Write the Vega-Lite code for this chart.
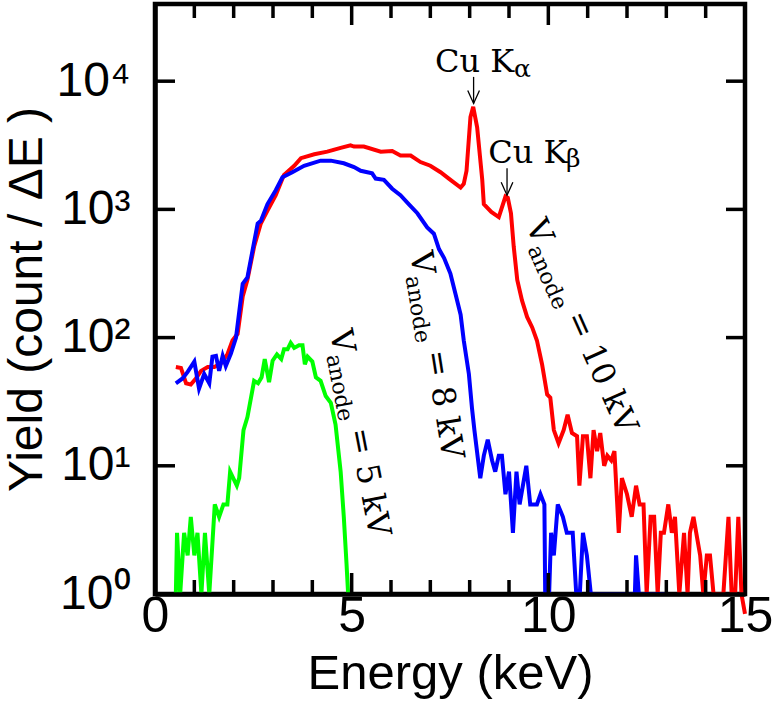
{
  "$schema": "https://vega.github.io/schema/vega-lite/v6.json",
  "width": 590,
  "height": 590,
  "autosize": {"type": "none"},
  "padding": {"left": 155, "top": 4, "right": 28, "bottom": 119},
  "background": "white",
  "config": {"view": {"stroke": "black", "strokeWidth": 4.5}, "font": "Liberation Sans"},
  "datasets": {
    "v10": [
      {"E":0.53,"Y":59},{"E":0.66,"Y":58},{"E":0.79,"Y":44},{"E":0.91,"Y":43},{"E":1.04,"Y":48},{"E":1.17,"Y":55},{"E":1.34,"Y":59},{"E":1.51,"Y":59},{"E":1.68,"Y":63},{"E":1.84,"Y":74},{"E":1.97,"Y":95},{"E":2.10,"Y":107},{"E":2.23,"Y":209},{"E":2.35,"Y":282},{"E":2.52,"Y":513},{"E":2.69,"Y":776},{"E":2.86,"Y":977},{"E":3.07,"Y":1290},{"E":3.28,"Y":1860},{"E":3.54,"Y":2190},{"E":3.71,"Y":2510},{"E":4.05,"Y":2690},{"E":4.38,"Y":2820},{"E":4.72,"Y":3020},{"E":4.97,"Y":3160},{"E":5.06,"Y":3090},{"E":5.31,"Y":3090},{"E":5.74,"Y":2820},{"E":6.03,"Y":2850},{"E":6.24,"Y":2630},{"E":6.50,"Y":2630},{"E":6.75,"Y":2340},{"E":7.00,"Y":2190},{"E":7.26,"Y":1950},{"E":7.47,"Y":1740},{"E":7.77,"Y":1480},{"E":7.85,"Y":1580},{"E":7.92,"Y":2000},{"E":8.02,"Y":5250},{"E":8.09,"Y":6310},{"E":8.19,"Y":4370},{"E":8.32,"Y":1700},{"E":8.36,"Y":1100},{"E":8.55,"Y":955},{"E":8.74,"Y":871},{"E":8.91,"Y":1260},{"E":8.97,"Y":1230},{"E":9.05,"Y":933},{"E":9.12,"Y":513},{"E":9.21,"Y":282},{"E":9.33,"Y":195},{"E":9.46,"Y":145},{"E":9.59,"Y":120},{"E":9.71,"Y":95},{"E":9.84,"Y":62},{"E":9.97,"Y":36},{"E":10.05,"Y":34},{"E":10.14,"Y":19},{"E":10.26,"Y":15},{"E":10.39,"Y":19},{"E":10.49,"Y":25},{"E":10.60,"Y":18},{"E":10.73,"Y":17},{"E":10.79,"Y":7},{"E":10.88,"Y":17},{"E":10.98,"Y":17},{"E":11.07,"Y":8},{"E":11.15,"Y":19},{"E":11.24,"Y":13},{"E":11.32,"Y":18},{"E":11.42,"Y":10},{"E":11.50,"Y":12},{"E":11.60,"Y":11},{"E":11.68,"Y":13},{"E":11.79,"Y":3},{"E":11.87,"Y":8},{"E":12.00,"Y":6},{"E":12.12,"Y":4},{"E":12.23,"Y":7},{"E":12.32,"Y":5},{"E":12.42,"Y":5},{"E":12.50,"Y":1},{"E":12.60,"Y":4},{"E":12.69,"Y":4},{"E":12.78,"Y":1},{"E":12.86,"Y":3},{"E":12.94,"Y":3},{"E":13.05,"Y":5},{"E":13.14,"Y":3},{"E":13.22,"Y":4},{"E":13.33,"Y":1},{"E":13.45,"Y":3},{"E":13.54,"Y":1},{"E":13.60,"Y":3},{"E":13.69,"Y":4},{"E":13.86,"Y":2},{"E":13.94,"Y":1},{"E":14.03,"Y":2},{"E":14.11,"Y":2},{"E":14.20,"Y":1},{"E":14.45,"Y":1},{"E":14.58,"Y":4},{"E":14.66,"Y":1},{"E":14.75,"Y":1},{"E":14.83,"Y":4},{"E":14.91,"Y":1},{"E":15.0,"Y":0.7}
    ],
    "v8": [
      {"E":0.53,"Y":44},{"E":0.70,"Y":48},{"E":0.83,"Y":54},{"E":1.00,"Y":65},{"E":1.12,"Y":40},{"E":1.25,"Y":52},{"E":1.38,"Y":44},{"E":1.46,"Y":71},{"E":1.55,"Y":72},{"E":1.63,"Y":55},{"E":1.72,"Y":72},{"E":1.80,"Y":60},{"E":1.93,"Y":75},{"E":2.06,"Y":100},{"E":2.23,"Y":263},{"E":2.35,"Y":295},{"E":2.48,"Y":479},{"E":2.61,"Y":776},{"E":2.69,"Y":813},{"E":2.86,"Y":1100},{"E":3.07,"Y":1410},{"E":3.24,"Y":1780},{"E":3.49,"Y":1950},{"E":3.79,"Y":2190},{"E":4.21,"Y":2400},{"E":4.47,"Y":2400},{"E":4.80,"Y":2290},{"E":5.06,"Y":2140},{"E":5.23,"Y":2000},{"E":5.52,"Y":1910},{"E":5.61,"Y":1740},{"E":5.82,"Y":1700},{"E":6.03,"Y":1450},{"E":6.24,"Y":1290},{"E":6.45,"Y":1100},{"E":6.67,"Y":933},{"E":6.92,"Y":724},{"E":7.09,"Y":646},{"E":7.22,"Y":490},{"E":7.35,"Y":417},{"E":7.51,"Y":316},{"E":7.64,"Y":219},{"E":7.77,"Y":151},{"E":7.85,"Y":95},{"E":7.98,"Y":52},{"E":8.06,"Y":28},{"E":8.12,"Y":19},{"E":8.27,"Y":8},{"E":8.36,"Y":12},{"E":8.46,"Y":16},{"E":8.57,"Y":11},{"E":8.65,"Y":9},{"E":8.74,"Y":12},{"E":8.82,"Y":12},{"E":8.91,"Y":6},{"E":9.00,"Y":9},{"E":9.10,"Y":3},{"E":9.19,"Y":9},{"E":9.27,"Y":5},{"E":9.44,"Y":10},{"E":9.54,"Y":5},{"E":9.71,"Y":5},{"E":9.80,"Y":6},{"E":9.90,"Y":5},{"E":9.92,"Y":1},{"E":10.02,"Y":1},{"E":10.07,"Y":3},{"E":10.14,"Y":2},{"E":10.24,"Y":5},{"E":10.37,"Y":4},{"E":10.47,"Y":3},{"E":10.62,"Y":3},{"E":10.71,"Y":1},{"E":10.80,"Y":1},{"E":10.88,"Y":3},{"E":10.98,"Y":2},{"E":11.08,"Y":1},{"E":12.20,"Y":1},{"E":12.23,"Y":2},{"E":12.30,"Y":1},{"E":13.0,"Y":1}
    ],
    "v5": [
      {"E":0.53,"Y":1},{"E":0.56,"Y":3},{"E":0.64,"Y":1},{"E":0.74,"Y":3},{"E":0.83,"Y":2},{"E":0.91,"Y":4},{"E":1.00,"Y":2},{"E":1.08,"Y":3},{"E":1.18,"Y":1},{"E":1.27,"Y":3},{"E":1.38,"Y":1},{"E":1.52,"Y":5},{"E":1.63,"Y":4},{"E":1.74,"Y":5},{"E":1.84,"Y":5},{"E":1.91,"Y":9},{"E":2.08,"Y":7},{"E":2.14,"Y":8},{"E":2.25,"Y":19},{"E":2.35,"Y":24},{"E":2.52,"Y":46},{"E":2.62,"Y":44},{"E":2.71,"Y":49},{"E":2.79,"Y":68},{"E":2.90,"Y":45},{"E":2.99,"Y":66},{"E":3.10,"Y":74},{"E":3.21,"Y":68},{"E":3.28,"Y":81},{"E":3.37,"Y":81},{"E":3.45,"Y":91},{"E":3.54,"Y":83},{"E":3.66,"Y":87},{"E":3.75,"Y":87},{"E":3.81,"Y":62},{"E":3.88,"Y":71},{"E":4.00,"Y":65},{"E":4.09,"Y":49},{"E":4.21,"Y":46},{"E":4.34,"Y":35},{"E":4.47,"Y":31},{"E":4.59,"Y":21},{"E":4.72,"Y":9},{"E":4.80,"Y":4},{"E":4.87,"Y":1.7},{"E":4.91,"Y":1}
    ]
  },
  "resolve": {"axis": {"x": "independent", "y": "independent"}},
  "layer": [
    {
      "data": {"name": "v10"},
      "mark": {"type": "line", "color": "#ff0000", "strokeWidth": 4, "clip": false},
      "encoding": {
        "x": {"field": "E", "type": "quantitative",
          "scale": {"domain": [0, 15], "nice": false, "zero": false},
          "axis": {"orient": "bottom", "values": [0, 5, 10, 15], "format": "d", "ticks": false,
            "domain": true, "domainColor": "black", "domainWidth": 4.5,
            "labelFont": "Liberation Sans", "labelFontSize": 50, "labelColor": "black", "labelPadding": -3,
            "labelFlush": false, "labelOverlap": false, "grid": false, "zindex": 1,
            "title": "Energy (keV)", "titleFont": "Liberation Sans", "titleFontSize": 49, "titleFontWeight": "normal", "titleColor": "black", "titlePadding": 8}},
        "y": {"field": "Y", "type": "quantitative",
          "scale": {"type": "log", "domain": [1, 40000], "nice": false},
          "axis": {"orient": "left", "values": [1, 10, 100, 1000, 10000], "ticks": false,
            "labelExpr": "datum.value == 1 ? '10⁰' : datum.value == 10 ? '10¹' : datum.value == 100 ? '10²' : datum.value == 1000 ? '10³' : '10⁴'",
            "domain": true, "domainColor": "black", "domainWidth": 4.5,
            "labelFont": "Liberation Sans", "labelFontSize": 48, "labelColor": "black", "labelPadding": 25,
            "labelFlush": false, "labelOverlap": false, "grid": false, "zindex": 1,
            "title": "Yield (count / ΔE )", "titleFont": "Liberation Sans", "titleFontSize": 48, "titleFontWeight": "normal", "titleColor": "black", "titlePadding": 4}}
      }
    },
    {
      "data": {"name": "v8"},
      "mark": {"type": "line", "color": "#0000ff", "strokeWidth": 4, "clip": false},
      "encoding": {
        "x": {"field": "E", "type": "quantitative", "scale": {"domain": [0, 15], "nice": false, "zero": false}, "axis": null},
        "y": {"field": "Y", "type": "quantitative", "scale": {"type": "log", "domain": [1, 40000], "nice": false}, "axis": null}
      }
    },
    {
      "data": {"name": "v5"},
      "mark": {"type": "line", "color": "#00ff00", "strokeWidth": 4, "clip": false},
      "encoding": {
        "x": {"field": "E", "type": "quantitative", "scale": {"domain": [0, 15], "nice": false, "zero": false}, "axis": null},
        "y": {"field": "Y", "type": "quantitative", "scale": {"type": "log", "domain": [1, 40000], "nice": false}, "axis": null}
      }
    },
    {
      "data": {"values": [{"x":1,"y":1},{"x":2,"y":1},{"x":3,"y":1},{"x":4,"y":1},{"x":6,"y":1},{"x":7,"y":1},{"x":8,"y":1},{"x":9,"y":1},{"x":11,"y":1},{"x":12,"y":1},{"x":13,"y":1},{"x":14,"y":1}]},
      "mark": {"type": "point", "shape": "M0,0L0,-1", "size": 784, "filled": false, "stroke": "black", "strokeWidth": 3.5, "opacity": 1, "strokeCap": "butt"},
      "encoding": {"x": {"field": "x", "type": "quantitative", "scale": {"domain": [0, 15], "nice": false, "zero": false}, "axis": null},
                   "y": {"field": "y", "type": "quantitative", "scale": {"type": "log", "domain": [1, 40000], "nice": false}, "axis": null}}
    },
    {
      "data": {"values": [{"x":1,"y":40000},{"x":2,"y":40000},{"x":3,"y":40000},{"x":4,"y":40000},{"x":6,"y":40000},{"x":7,"y":40000},{"x":8,"y":40000},{"x":9,"y":40000},{"x":11,"y":40000},{"x":12,"y":40000},{"x":13,"y":40000},{"x":14,"y":40000}]},
      "mark": {"type": "point", "shape": "M0,0L0,1", "size": 784, "filled": false, "stroke": "black", "strokeWidth": 3.5, "opacity": 1, "strokeCap": "butt"},
      "encoding": {"x": {"field": "x", "type": "quantitative", "scale": {"domain": [0, 15], "nice": false, "zero": false}, "axis": null},
                   "y": {"field": "y", "type": "quantitative", "scale": {"type": "log", "domain": [1, 40000], "nice": false}, "axis": null}}
    },
    {
      "data": {"values": [{"x":5,"y":1},{"x":10,"y":1}]},
      "mark": {"type": "point", "shape": "M0,0L0,-1", "size": 1764, "filled": false, "stroke": "black", "strokeWidth": 3.5, "opacity": 1, "strokeCap": "butt"},
      "encoding": {"x": {"field": "x", "type": "quantitative", "scale": {"domain": [0, 15], "nice": false, "zero": false}, "axis": null},
                   "y": {"field": "y", "type": "quantitative", "scale": {"type": "log", "domain": [1, 40000], "nice": false}, "axis": null}}
    },
    {
      "data": {"values": [{"x":5,"y":40000},{"x":10,"y":40000}]},
      "mark": {"type": "point", "shape": "M0,0L0,1", "size": 1764, "filled": false, "stroke": "black", "strokeWidth": 3.5, "opacity": 1, "strokeCap": "butt"},
      "encoding": {"x": {"field": "x", "type": "quantitative", "scale": {"domain": [0, 15], "nice": false, "zero": false}, "axis": null},
                   "y": {"field": "y", "type": "quantitative", "scale": {"type": "log", "domain": [1, 40000], "nice": false}, "axis": null}}
    },
    {
      "data": {"values": [{"x":0,"y":10},{"x":0,"y":100},{"x":0,"y":1000},{"x":0,"y":10000}]},
      "mark": {"type": "point", "shape": "M0,0L1,0", "size": 1600, "filled": false, "stroke": "black", "strokeWidth": 3.5, "opacity": 1, "strokeCap": "butt"},
      "encoding": {"x": {"field": "x", "type": "quantitative", "scale": {"domain": [0, 15], "nice": false, "zero": false}, "axis": null},
                   "y": {"field": "y", "type": "quantitative", "scale": {"type": "log", "domain": [1, 40000], "nice": false}, "axis": null}}
    },
    {
      "data": {"values": [{"x":15,"y":10},{"x":15,"y":100},{"x":15,"y":1000},{"x":15,"y":10000}]},
      "mark": {"type": "point", "shape": "M0,0L-1,0", "size": 1444, "filled": false, "stroke": "black", "strokeWidth": 3.5, "opacity": 1, "strokeCap": "butt"},
      "encoding": {"x": {"field": "x", "type": "quantitative", "scale": {"domain": [0, 15], "nice": false, "zero": false}, "axis": null},
                   "y": {"field": "y", "type": "quantitative", "scale": {"type": "log", "domain": [1, 40000], "nice": false}, "axis": null}}
    },
    {
      "data": {"values": [{"x": 8.10, "y": 10800, "y2": 6700}, {"x": 8.95, "y": 2090, "y2": 1290}]},
      "layer": [
        {
          "mark": {"type": "rule", "color": "black", "strokeWidth": 1.3},
          "encoding": {
            "x": {"field": "x", "type": "quantitative", "scale": {"domain": [0, 15], "nice": false, "zero": false}, "axis": null},
            "y": {"field": "y", "type": "quantitative", "scale": {"type": "log", "domain": [1, 40000], "nice": false}, "axis": null},
            "y2": {"field": "y2"}
          }
        },
        {
          "mark": {"type": "point", "shape": "M-0.45,-1L0,0L0.45,-1", "size": 676, "filled": false, "stroke": "black", "strokeWidth": 1.3, "opacity": 1},
          "encoding": {
            "x": {"field": "x", "type": "quantitative", "scale": {"domain": [0, 15], "nice": false, "zero": false}, "axis": null},
            "y": {"field": "y2", "type": "quantitative", "scale": {"type": "log", "domain": [1, 40000], "nice": false}, "axis": null}
          }
        }
      ]
    },
    {
      "data": {"values": [{"x": 7.12, "y": 11800, "t": "Cu K"}, {"x": 8.47, "y": 2300, "t": "Cu K"}]},
      "mark": {"type": "text", "align": "left", "baseline": "alphabetic", "font": "DejaVu Serif", "fontSize": 32, "color": "black"},
      "encoding": {
        "x": {"field": "x", "type": "quantitative", "scale": {"domain": [0, 15], "nice": false, "zero": false}, "axis": null},
        "y": {"field": "y", "type": "quantitative", "scale": {"type": "log", "domain": [1, 40000], "nice": false}, "axis": null},
        "text": {"field": "t"}
      }
    },
    {
      "data": {"values": [{"x": 9.13, "y": 10790, "t": "α"}, {"x": 10.45, "y": 2140, "t": "β"}]},
      "mark": {"type": "text", "align": "left", "baseline": "alphabetic", "font": "DejaVu Serif", "fontSize": 25, "color": "black"},
      "encoding": {
        "x": {"field": "x", "type": "quantitative", "scale": {"domain": [0, 15], "nice": false, "zero": false}, "axis": null},
        "y": {"field": "y", "type": "quantitative", "scale": {"type": "log", "domain": [1, 40000], "nice": false}, "axis": null},
        "text": {"field": "t"}
      }
    },
    {
      "data": {"values": [{"x": 9.41, "y": 755, "v": "V", "sub": "anode", "rest": "= 10 kV"}]},
      "layer": [
        {"mark": {"type": "text", "align": "left", "baseline": "alphabetic", "font": "DejaVu Serif", "fontSize": 32, "color": "black", "angle": 66},
         "encoding": {"x": {"field": "x", "type": "quantitative", "scale": {"domain": [0, 15], "nice": false, "zero": false}, "axis": null},
                      "y": {"field": "y", "type": "quantitative", "scale": {"type": "log", "domain": [1, 40000], "nice": false}, "axis": null},
                      "text": {"field": "v"}}},
        {"mark": {"type": "text", "align": "left", "baseline": "alphabetic", "font": "DejaVu Serif", "fontSize": 22, "color": "black", "angle": 66, "dx": 23, "dy": 8},
         "encoding": {"x": {"field": "x", "type": "quantitative", "scale": {"domain": [0, 15], "nice": false, "zero": false}, "axis": null},
                      "y": {"field": "y", "type": "quantitative", "scale": {"type": "log", "domain": [1, 40000], "nice": false}, "axis": null},
                      "text": {"field": "sub"}}},
        {"mark": {"type": "text", "align": "left", "baseline": "alphabetic", "font": "DejaVu Serif", "fontSize": 32, "color": "black", "angle": 66, "dx": 100},
         "encoding": {"x": {"field": "x", "type": "quantitative", "scale": {"domain": [0, 15], "nice": false, "zero": false}, "axis": null},
                      "y": {"field": "y", "type": "quantitative", "scale": {"type": "log", "domain": [1, 40000], "nice": false}, "axis": null},
                      "text": {"field": "rest"}}}
      ]
    },
    {
      "data": {"values": [{"x": 6.48, "y": 457, "v": "V", "sub": "anode", "rest": "= 8 kV"}]},
      "layer": [
        {"mark": {"type": "text", "align": "left", "baseline": "alphabetic", "font": "DejaVu Serif", "fontSize": 32, "color": "black", "angle": 81},
         "encoding": {"x": {"field": "x", "type": "quantitative", "scale": {"domain": [0, 15], "nice": false, "zero": false}, "axis": null},
                      "y": {"field": "y", "type": "quantitative", "scale": {"type": "log", "domain": [1, 40000], "nice": false}, "axis": null},
                      "text": {"field": "v"}}},
        {"mark": {"type": "text", "align": "left", "baseline": "alphabetic", "font": "DejaVu Serif", "fontSize": 22, "color": "black", "angle": 81, "dx": 23, "dy": 8},
         "encoding": {"x": {"field": "x", "type": "quantitative", "scale": {"domain": [0, 15], "nice": false, "zero": false}, "axis": null},
                      "y": {"field": "y", "type": "quantitative", "scale": {"type": "log", "domain": [1, 40000], "nice": false}, "axis": null},
                      "text": {"field": "sub"}}},
        {"mark": {"type": "text", "align": "left", "baseline": "alphabetic", "font": "DejaVu Serif", "fontSize": 32, "color": "black", "angle": 81, "dx": 100},
         "encoding": {"x": {"field": "x", "type": "quantitative", "scale": {"domain": [0, 15], "nice": false, "zero": false}, "axis": null},
                      "y": {"field": "y", "type": "quantitative", "scale": {"type": "log", "domain": [1, 40000], "nice": false}, "axis": null},
                      "text": {"field": "rest"}}}
      ]
    },
    {
      "data": {"values": [{"x": 4.44, "y": 111, "v": "V", "sub": "anode", "rest": "= 5 kV"}]},
      "layer": [
        {"mark": {"type": "text", "align": "left", "baseline": "alphabetic", "font": "DejaVu Serif", "fontSize": 32, "color": "black", "angle": 79},
         "encoding": {"x": {"field": "x", "type": "quantitative", "scale": {"domain": [0, 15], "nice": false, "zero": false}, "axis": null},
                      "y": {"field": "y", "type": "quantitative", "scale": {"type": "log", "domain": [1, 40000], "nice": false}, "axis": null},
                      "text": {"field": "v"}}},
        {"mark": {"type": "text", "align": "left", "baseline": "alphabetic", "font": "DejaVu Serif", "fontSize": 22, "color": "black", "angle": 79, "dx": 23, "dy": 8},
         "encoding": {"x": {"field": "x", "type": "quantitative", "scale": {"domain": [0, 15], "nice": false, "zero": false}, "axis": null},
                      "y": {"field": "y", "type": "quantitative", "scale": {"type": "log", "domain": [1, 40000], "nice": false}, "axis": null},
                      "text": {"field": "sub"}}},
        {"mark": {"type": "text", "align": "left", "baseline": "alphabetic", "font": "DejaVu Serif", "fontSize": 32, "color": "black", "angle": 79, "dx": 100},
         "encoding": {"x": {"field": "x", "type": "quantitative", "scale": {"domain": [0, 15], "nice": false, "zero": false}, "axis": null},
                      "y": {"field": "y", "type": "quantitative", "scale": {"type": "log", "domain": [1, 40000], "nice": false}, "axis": null},
                      "text": {"field": "rest"}}}
      ]
    }
  ]
}
